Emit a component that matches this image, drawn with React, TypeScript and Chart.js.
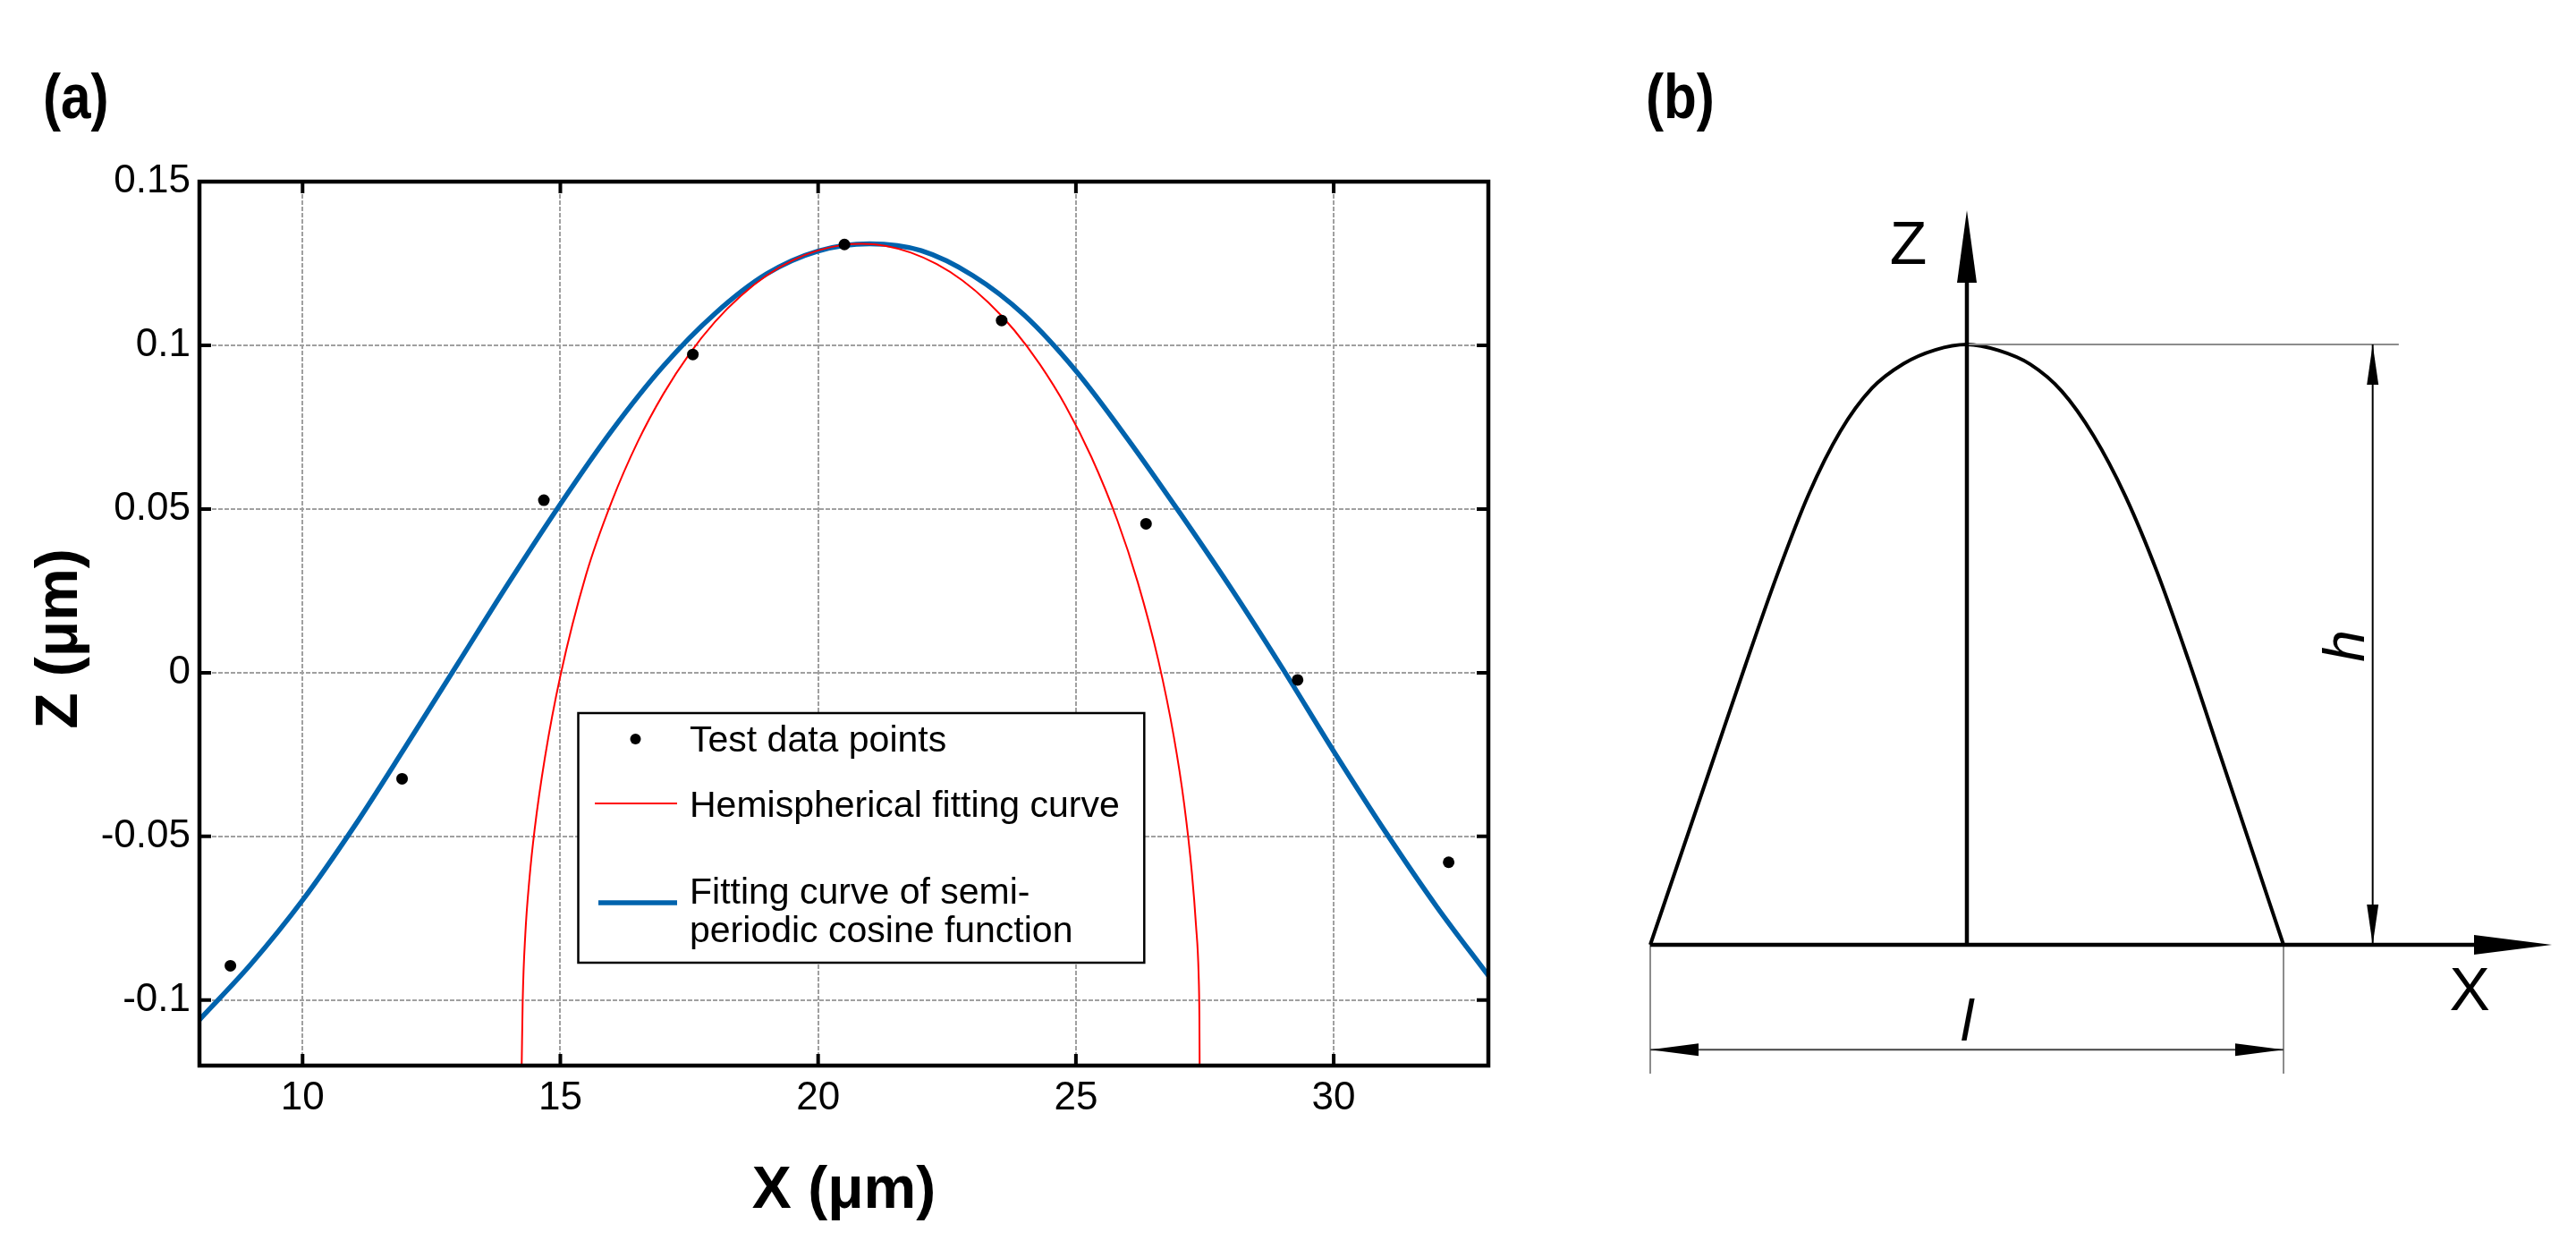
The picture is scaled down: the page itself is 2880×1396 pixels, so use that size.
import React, { useEffect, useRef } from 'react';
import { Chart, registerables } from 'chart.js';

Chart.register(...registerables);

// ---------- Panel (a) data ----------
const testX = [8.6, 11.93, 14.68, 17.57, 20.51, 23.56, 26.36, 29.3, 32.23];
const testZ = [-0.0895, -0.0324, 0.0527, 0.0972, 0.1308, 0.1076, 0.0455, -0.0022, -0.0579];

const hemiX = [14.25, 14.27, 14.32, 14.4, 14.5, 14.7, 15.0, 15.5, 16.0, 16.5, 17.0, 17.5, 18.0, 18.5, 19.0, 19.5, 20.0, 20.5, 20.85, 21.3, 21.8, 22.3, 22.8, 23.3, 23.8, 24.3, 24.8, 25.3, 25.8, 26.2, 26.6, 26.9, 27.1, 27.25, 27.33, 27.38, 27.395, 27.4];
const hemiZ = [-0.12, -0.1, -0.08, -0.063, -0.048, -0.026, -0.001, 0.03, 0.0524, 0.0705, 0.0852, 0.0973, 0.1072, 0.1151, 0.1213, 0.1259, 0.129, 0.1307, 0.131, 0.1304, 0.1283, 0.1248, 0.1198, 0.1131, 0.1047, 0.0942, 0.0815, 0.0659, 0.0467, 0.0276, 0.0037, -0.0196, -0.0401, -0.0612, -0.0773, -0.092, -0.105, -0.12];

const cosX = [8, 9, 10, 11, 12, 13, 14, 15, 16, 17, 18, 19, 20, 21, 22, 23, 24, 25, 26, 27, 28, 29, 30, 31, 32, 33];
const cosZ = [-0.106, -0.089, -0.0695, -0.047, -0.0225, 0.0025, 0.0275, 0.0515, 0.074, 0.0937, 0.1097, 0.1218, 0.1288, 0.131, 0.1289, 0.1213, 0.1092, 0.0922, 0.0715, 0.0492, 0.026, 0.0015, -0.024, -0.0485, -0.0715, -0.0925];

const xTicks = [10, 15, 20, 25, 30];
const xTickLabels = ['10', '15', '20', '25', '30'];
const yTicks = [-0.1, -0.05, 0, 0.05, 0.1, 0.15];
const yTickLabels = ['-0.1', '-0.05', '0', '0.05', '0.1', '0.15'];

const xTitle = 'X (μm)';
const yTitle = 'Z (μm)';
const legendLabels = ['Test data points', 'Hemispherical fitting curve', 'Fitting curve of semi-', 'periodic cosine function'];

// ---------- Panel (b) data (x in units of l, z in units of h) ----------
const profileX = [-0.5, -0.45, -0.4, -0.35, -0.3, -0.25, -0.2, -0.15, -0.1, -0.05, 0, 0.05, 0.1, 0.15, 0.2, 0.25, 0.3, 0.35, 0.4, 0.45, 0.5];
const profileZ = [0, 0.155, 0.31, 0.465, 0.615, 0.75, 0.855, 0.927, 0.968, 0.991, 1, 0.99, 0.967, 0.922, 0.848, 0.748, 0.622, 0.474, 0.316, 0.158, 0];

const FONT = "'Liberation Sans', Arial, Helvetica, sans-serif";

const drawPanelLabel = (ctx: CanvasRenderingContext2D, text: string, x: number, y: number) => {
  ctx.save();
  ctx.translate(x, y);
  ctx.scale(0.86, 1);
  ctx.font = `bold 70px ${FONT}`;
  ctx.textAlign = 'left';
  ctx.textBaseline = 'alphabetic';
  ctx.fillStyle = '#000';
  ctx.fillText(text, 0, 0);
  ctx.restore();
};

const frameLegendPlugin = {
  id: 'frameLegend',
  afterDraw(chart: any) {
    const { ctx, chartArea: a, scales } = chart;
    const xs = scales.x;
    const ys = scales.y;
    ctx.save();
    // inward ticks
    ctx.strokeStyle = '#000';
    ctx.lineWidth = 4;
    const tl = 13;
    ctx.beginPath();
    for (const v of xTicks) {
      const px = xs.getPixelForValue(v);
      ctx.moveTo(px, a.bottom);
      ctx.lineTo(px, a.bottom - tl);
      ctx.moveTo(px, a.top);
      ctx.lineTo(px, a.top + tl);
    }
    for (const v of yTicks) {
      const py = ys.getPixelForValue(v);
      ctx.moveTo(a.left, py);
      ctx.lineTo(a.left + tl, py);
      ctx.moveTo(a.right, py);
      ctx.lineTo(a.right - tl, py);
    }
    ctx.stroke();
    // frame
    ctx.lineWidth = 4.5;
    ctx.strokeRect(a.left, a.top, a.right - a.left, a.bottom - a.top);

    // y-axis title (slightly below the plot centre, as in the reference)
    ctx.save();
    ctx.translate(68, (a.top + a.bottom) / 2 + 17);
    ctx.rotate(-Math.PI / 2);
    ctx.font = `bold 66px ${FONT}`;
    ctx.fillStyle = '#000';
    ctx.textAlign = 'center';
    ctx.textBaseline = 'middle';
    ctx.fillText(yTitle, 0, 0);
    ctx.restore();

    // legend box
    const bx = 646.5, by = 797, bw = 632.8, bh = 279;
    ctx.fillStyle = '#fff';
    ctx.fillRect(bx, by, bw, bh);
    ctx.lineWidth = 2.5;
    ctx.strokeStyle = '#000';
    ctx.strokeRect(bx, by, bw, bh);
    // markers
    ctx.fillStyle = '#000';
    ctx.beginPath();
    ctx.arc(710.5, 826, 6, 0, Math.PI * 2);
    ctx.fill();
    ctx.strokeStyle = '#ff0000';
    ctx.lineWidth = 2;
    ctx.beginPath();
    ctx.moveTo(665, 898);
    ctx.lineTo(757, 898);
    ctx.stroke();
    ctx.strokeStyle = '#0063ad';
    ctx.lineWidth = 5.5;
    ctx.beginPath();
    ctx.moveTo(669, 1009);
    ctx.lineTo(757, 1009);
    ctx.stroke();
    // texts
    ctx.fillStyle = '#000';
    ctx.font = `41px ${FONT}`;
    ctx.textAlign = 'left';
    ctx.textBaseline = 'alphabetic';
    ctx.fillText(legendLabels[0], 771, 840);
    ctx.fillText(legendLabels[1], 771, 913);
    ctx.fillText(legendLabels[2], 771, 1010);
    ctx.fillText(legendLabels[3], 771, 1053);
    ctx.restore();

    drawPanelLabel(ctx, '(a)', 48, 132);
  },
};

const schematicPlugin = {
  id: 'schematic',
  afterDatasetsDraw(chart: any) {
    const { ctx, scales } = chart;
    const X = (v: number) => scales.x.getPixelForValue(v);
    const Z = (v: number) => scales.y.getPixelForValue(v);
    const arrow = (tx: number, ty: number, dx: number, dy: number, len: number, half: number) => {
      const bxp = tx - dx * len, byp = ty - dy * len;
      const nx = -dy, ny = dx;
      ctx.beginPath();
      ctx.moveTo(tx, ty);
      ctx.lineTo(bxp + nx * half, byp + ny * half);
      ctx.lineTo(bxp - nx * half, byp - ny * half);
      ctx.closePath();
      ctx.fill();
    };
    ctx.save();
    ctx.lineCap = 'butt';
    // reference line at peak
    ctx.strokeStyle = '#8c8c8c';
    ctx.lineWidth = 2;
    ctx.beginPath();
    ctx.moveTo(X(0), Z(1));
    ctx.lineTo(X(0.682), Z(1));
    ctx.stroke();
    // extension lines
    ctx.beginPath();
    ctx.moveTo(X(-0.5), Z(0));
    ctx.lineTo(X(-0.5), Z(-0.2146));
    ctx.moveTo(X(0.5), Z(0));
    ctx.lineTo(X(0.5), Z(-0.2146));
    ctx.stroke();
    // l dimension line
    ctx.strokeStyle = '#444';
    ctx.fillStyle = '#000';
    ctx.beginPath();
    ctx.moveTo(X(-0.5), Z(-0.1748));
    ctx.lineTo(X(0.5), Z(-0.1748));
    ctx.stroke();
    arrow(X(-0.5), Z(-0.1748), -1, 0, 54, 7);
    arrow(X(0.5), Z(-0.1748), 1, 0, 54, 7);
    // h dimension line
    ctx.strokeStyle = '#000';
    ctx.lineWidth = 2;
    ctx.beginPath();
    ctx.moveTo(X(0.6408), Z(0));
    ctx.lineTo(X(0.6408), Z(1));
    ctx.stroke();
    arrow(X(0.6408), Z(1), 0, -1, 45, 6.5);
    arrow(X(0.6408), Z(0), 0, 1, 45, 6.5);
    // X axis
    ctx.lineWidth = 4.5;
    ctx.beginPath();
    ctx.moveTo(X(-0.5), Z(0));
    ctx.lineTo(X(0.9237) - 40, Z(0));
    ctx.stroke();
    arrow(X(0.9237), Z(0), 1, 0, 87, 11);
    // Z axis
    ctx.beginPath();
    ctx.moveTo(X(0), Z(0));
    ctx.lineTo(X(0), Z(1.2235) + 40);
    ctx.stroke();
    arrow(X(0), Z(1.2235), 0, -1, 81, 11);

    // labels
    ctx.fillStyle = '#000';
    ctx.textAlign = 'center';
    ctx.textBaseline = 'alphabetic';
    ctx.font = `68px ${FONT}`;
    ctx.fillText('Z', X(-0.0925), Z(1.171) + 0.358 * 68);
    ctx.fillText('X', X(0.794), Z(-0.073) + 0.358 * 68);
    ctx.font = `italic 64px ${FONT}`;
    ctx.fillText('l', X(0), Z(-0.125) + 0.365 * 64);
    ctx.save();
    ctx.translate(X(0.5946), Z(0.4978));
    ctx.rotate(-Math.PI / 2);
    ctx.fillText('h', 0, 0.365 * 64);
    ctx.restore();
    ctx.restore();

    drawPanelLabel(ctx, '(b)', 1840 - 1780, 132);
  },
};

export default function App() {
  const aRef = useRef<HTMLCanvasElement>(null);
  const bRef = useRef<HTMLCanvasElement>(null);

  useEffect(() => {
    const chartA = new Chart(aRef.current as HTMLCanvasElement, {
      type: 'scatter',
      data: {
        datasets: [
          {
            label: legendLabels[0],
            data: testX.map((x, i) => ({ x, y: testZ[i] })),
            showLine: false,
            pointRadius: 6.5,
            pointBackgroundColor: '#000',
            pointBorderWidth: 0,
            order: 0,
          },
          {
            label: legendLabels[1],
            data: hemiX.map((x, i) => ({ x, y: hemiZ[i] })),
            showLine: true,
            borderColor: '#ff0000',
            borderWidth: 2,
            pointRadius: 0,
            cubicInterpolationMode: 'monotone',
            order: 1,
          },
          {
            label: legendLabels[2] + legendLabels[3],
            data: cosX.map((x, i) => ({ x, y: cosZ[i] })),
            showLine: true,
            borderColor: '#0063ad',
            borderWidth: 5.5,
            pointRadius: 0,
            cubicInterpolationMode: 'monotone',
            order: 2,
          },
        ] as any,
      },
      options: {
        responsive: false,
        animation: false,
        devicePixelRatio: 1,
        events: [],
        layout: { padding: { left: 0, top: 203, right: 116, bottom: 0 } },
        plugins: { legend: { display: false }, tooltip: { enabled: false } },
        scales: {
          x: {
            type: 'linear',
            min: 8,
            max: 33,
            afterBuildTicks: (s: any) => {
              s.ticks = xTicks.map((v) => ({ value: v }));
            },
            afterFit: (s: any) => {
              s.height = 205;
            },
            ticks: {
              padding: 10,
              color: '#000',
              autoSkip: false,
              maxRotation: 0,
              font: { family: FONT, size: 44 },
              callback: (_v: any, i: number) => xTickLabels[i],
            },
            grid: { color: '#a0a0a0', lineWidth: 2, drawTicks: false },
            border: { display: false, dash: [5, 2] },
            title: {
              display: true,
              text: xTitle,
              color: '#000',
              font: { family: FONT, size: 66, weight: 'bold' },
              padding: { top: 0, bottom: 25 },
            },
          },
          y: {
            type: 'linear',
            min: -0.12,
            max: 0.15,
            afterBuildTicks: (s: any) => {
              s.ticks = yTicks.map((v) => ({ value: v }));
            },
            afterFit: (s: any) => {
              s.width = 223;
            },
            ticks: {
              padding: 10,
              color: '#000',
              autoSkip: false,
              font: { family: FONT, size: 44 },
              callback: (_v: any, i: number) => yTickLabels[i],
            },
            grid: { color: '#a0a0a0', lineWidth: 2, drawTicks: false },
            border: { display: false, dash: [5, 2] },
            title: { display: false },
          },
        },
      } as any,
      plugins: [frameLegendPlugin],
    });

    const chartB = new Chart(bRef.current as HTMLCanvasElement, {
      type: 'scatter',
      data: {
        datasets: [
          {
            label: 'profile',
            data: profileX.map((x, i) => ({ x, y: profileZ[i] })),
            showLine: true,
            borderColor: '#000',
            borderWidth: 4,
            pointRadius: 0,
            cubicInterpolationMode: 'monotone',
            clip: false,
          },
        ] as any,
      },
      options: {
        responsive: false,
        animation: false,
        devicePixelRatio: 1,
        events: [],
        layout: { padding: { left: 65, right: 327, top: 385, bottom: 340 } },
        plugins: { legend: { display: false }, tooltip: { enabled: false } },
        scales: {
          x: { type: 'linear', min: -0.5, max: 0.5, display: false },
          y: { type: 'linear', min: 0, max: 1, display: false },
        },
      } as any,
      plugins: [schematicPlugin],
    });

    return () => {
      chartA.destroy();
      chartB.destroy();
    };
  }, []);

  return (
    <div style={{ position: 'absolute', left: 0, top: 0, width: 2880, height: 1396, background: '#fff', overflow: 'hidden' }}>
      <canvas ref={aRef} width={1780} height={1396} style={{ position: 'absolute', left: 0, top: 0, width: 1780, height: 1396 }} />
      <canvas ref={bRef} width={1100} height={1396} style={{ position: 'absolute', left: 1780, top: 0, width: 1100, height: 1396 }} />
    </div>
  );
}
